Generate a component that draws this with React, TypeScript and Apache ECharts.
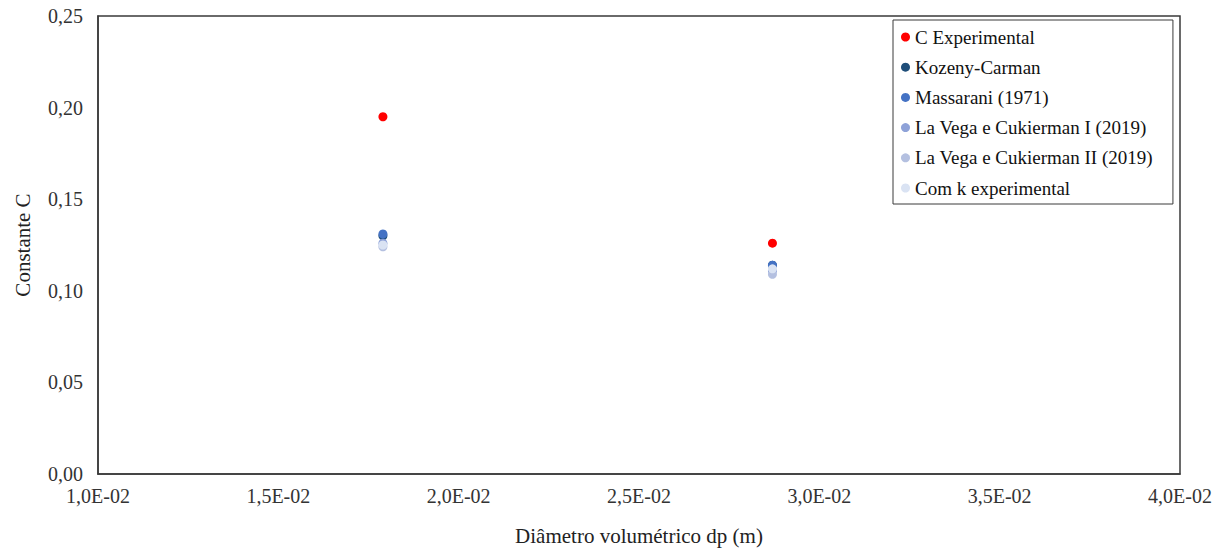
import React, { useEffect, useRef } from "react";
import * as echarts from "echarts";

const diameters = [0.0179, 0.0287];
const seriesNames = [
  "C Experimental",
  "Kozeny-Carman",
  "Massarani (1971)",
  "La Vega e Cukierman I (2019)",
  "La Vega e Cukierman II (2019)",
  "Com k experimental",
];
const cExperimental = [0.195, 0.126];
const kozenyCarman = [0.13, 0.114];
const massarani = [0.131, 0.114];
const laVegaI = [0.126, 0.111];
const laVegaII = [0.124, 0.109];
const comKExperimental = [0.125, 0.112];
const seriesValues = [cExperimental, kozenyCarman, massarani, laVegaI, laVegaII, comKExperimental];
const seriesColors = ["#ff0000", "#1f4e79", "#4472c4", "#8ea2d8", "#b4c0e0", "#dae3f3"];

const fontFamily = "Liberation Serif";

export default function App() {
  const ref = useRef<HTMLDivElement>(null);
  useEffect(() => {
    const chart = echarts.init(ref.current!, null, { renderer: "svg" });
    const fmtX = (v: number) => {
      const m = v / 0.01;
      return m.toFixed(1).replace(".", ",") + "E-02";
    };
    chart.setOption({
      animation: false,
      backgroundColor: "#ffffff",
      textStyle: { fontFamily },
      grid: {
        left: 98,
        right: 44,
        top: 16,
        bottom: 76,
        show: true,
        borderColor: "#3a3a3a",
        borderWidth: 1.5,
        containLabel: false,
        outerBoundsMode: "none",
      },
      legend: {
        orient: "vertical",
        left: 893,
        top: 20,
        backgroundColor: "#ffffff",
        borderColor: "#3a3a3a",
        borderWidth: 1,
        padding: [7.5, 20, 6.5, 8],
        itemGap: 11.2,
        itemWidth: 9,
        itemHeight: 9,
        icon: "circle",
        textStyle: { fontFamily, fontSize: 19, color: "#111111", lineHeight: 19 },
        data: seriesNames,
      },
      xAxis: {
        type: "value",
        min: 0.01,
        max: 0.04,
        interval: 0.005,
        name: "Diâmetro volumétrico dp (m)",
        nameLocation: "middle",
        nameGap: 51,
        nameTextStyle: { fontFamily, fontSize: 21, color: "#222222" },
        axisLine: { show: true, lineStyle: { color: "#3a3a3a", width: 1.5 } },
        axisTick: { show: false },
        splitLine: { show: false },
        axisLabel: { formatter: fmtX, fontFamily, fontSize: 20, color: "#333333", margin: 12 },
      },
      yAxis: {
        type: "value",
        min: 0,
        max: 0.25,
        interval: 0.05,
        name: "Constante C",
        nameLocation: "middle",
        nameGap: 65,
        nameTextStyle: { fontFamily, fontSize: 21, color: "#222222" },
        axisLine: { show: true, lineStyle: { color: "#3a3a3a", width: 1.5 } },
        axisTick: { show: false },
        splitLine: { show: false },
        axisLabel: {
          formatter: (v: number) => v.toFixed(2).replace(".", ","),
          fontFamily,
          fontSize: 20,
          color: "#333333",
          margin: 15,
        },
      },
      series: seriesNames.map((name, i) => ({
        name,
        type: "scatter",
        symbol: "circle",
        symbolSize: 9,
        itemStyle: { color: seriesColors[i], opacity: 1 },
        data: diameters.map((d, j) => [d, seriesValues[i][j]]),
      })),
    });
    return () => chart.dispose();
  }, []);
  return (
    <div
      ref={ref}
      style={{ position: "absolute", left: 0, top: 0, width: 1224, height: 550 }}
    />
  );
}
